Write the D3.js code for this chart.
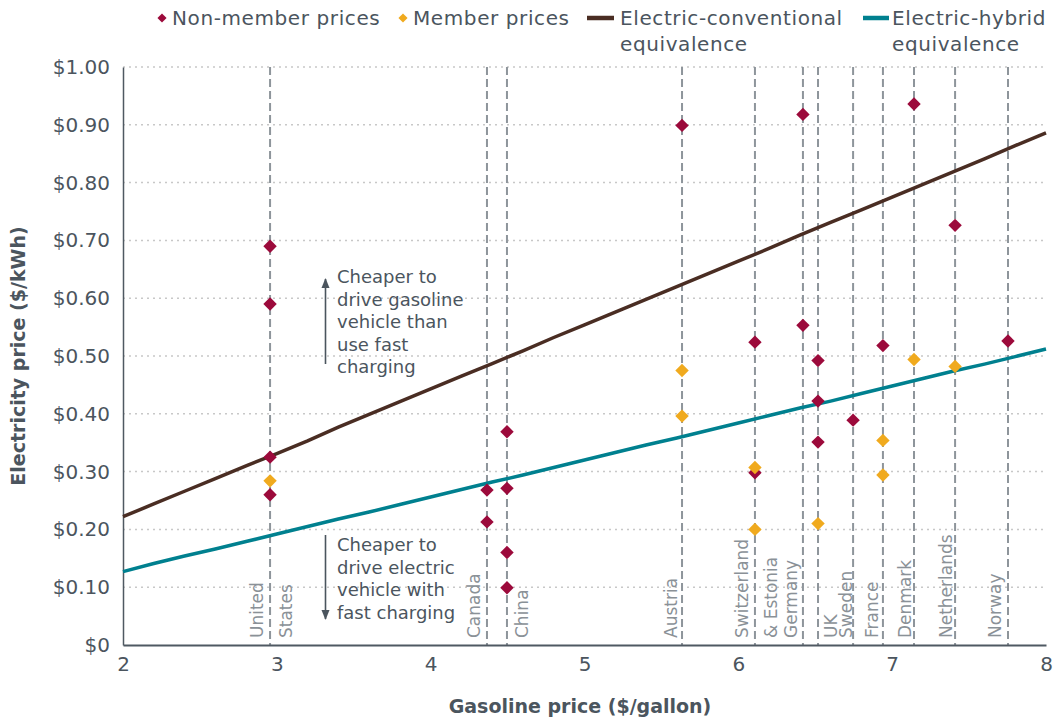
<!DOCTYPE html>
<html>
<head>
<meta charset="utf-8">
<script src="https://cdn.jsdelivr.net/npm/d3@7"></script>
<style>
  body { margin: 0; background: #fff; }
  svg { display: block; font-family: "DejaVu Sans", sans-serif; }
</style>
</head>
<body>
<svg id="chart" width="1056" height="719"></svg>
<script>
// ---------------- DATA ----------------
const countries = ["United States", "Canada", "China", "Austria", "Switzerland & Estonia",
  "Germany", "UK", "Sweden", "France", "Denmark", "Netherlands", "Norway"];
const gasolinePrice = [2.956, 4.366, 4.496, 5.634, 6.108, 6.42, 6.518, 6.746, 6.94, 7.142, 7.409, 7.753];

// [country, electricity price $/kWh]
const nonMemberPrices = [
  ["United States", 0.690], ["United States", 0.590], ["United States", 0.325], ["United States", 0.260],
  ["Canada", 0.268], ["Canada", 0.213],
  ["China", 0.369], ["China", 0.271], ["China", 0.160], ["China", 0.099],
  ["Austria", 0.899],
  ["Switzerland & Estonia", 0.524], ["Switzerland & Estonia", 0.298],
  ["Germany", 0.918], ["Germany", 0.553],
  ["UK", 0.492], ["UK", 0.422], ["UK", 0.351],
  ["Sweden", 0.389],
  ["France", 0.518],
  ["Denmark", 0.936],
  ["Netherlands", 0.726],
  ["Norway", 0.526]
];
const memberPrices = [
  ["United States", 0.284],
  ["Austria", 0.475], ["Austria", 0.396],
  ["Switzerland & Estonia", 0.307], ["Switzerland & Estonia", 0.200],
  ["UK", 0.210],
  ["France", 0.354], ["France", 0.294],
  ["Denmark", 0.494],
  ["Netherlands", 0.482]
];

const equivGasoline = [2.0, 2.2, 2.4, 2.6, 2.8, 3.0, 3.2, 3.4, 3.6, 3.8, 4.0, 4.2, 4.4, 4.6, 4.8, 5.0,
  5.2, 5.4, 5.6, 5.8, 6.0, 6.2, 6.4, 6.6, 6.8, 7.0, 7.2, 7.4, 7.6, 7.8, 8.0];
const conventionalEquiv = [0.222, 0.244, 0.266, 0.288, 0.310, 0.331, 0.353, 0.377, 0.399, 0.421,
  0.443, 0.465, 0.487, 0.509, 0.532, 0.554, 0.576, 0.598, 0.620, 0.642, 0.664, 0.686, 0.709,
  0.731, 0.753, 0.775, 0.797, 0.819, 0.841, 0.864, 0.886];
const hybridEquiv = [0.127, 0.141, 0.154, 0.166, 0.179, 0.192, 0.205, 0.218, 0.230, 0.243, 0.256,
  0.269, 0.282, 0.294, 0.307, 0.320, 0.333, 0.346, 0.358, 0.371, 0.384, 0.397, 0.410, 0.422,
  0.435, 0.448, 0.461, 0.474, 0.486, 0.499, 0.512];

const xTicks = [2, 3, 4, 5, 6, 7, 8];
const yTicks = [0, 0.1, 0.2, 0.3, 0.4, 0.5, 0.6, 0.7, 0.8, 0.9, 1.0];
const yTickLabels = ["$0", "$0.10", "$0.20", "$0.30", "$0.40", "$0.50", "$0.60", "$0.70", "$0.80", "$0.90", "$1.00"];

const legendLabels = [["Non-member prices"], ["Member prices"],
  ["Electric-conventional", "equivalence"], ["Electric-hybrid", "equivalence"]];
const annotationUp = ["Cheaper to", "drive gasoline", "vehicle than", "use fast", "charging"];
const annotationDown = ["Cheaper to", "drive electric", "vehicle with", "fast charging"];

// ---------------- LAYOUT ----------------
const C = {
  text: "#4b555e", axis: "#4f5962", grid: "#c8c8c8", dash: "#8e959b",
  nonMember: "#9c0a3b", member: "#f0aa1e", conv: "#4a2d23", hybrid: "#00808f"
};
const svg = d3.select("#chart");
const M = { left: 123, right: 1046, top: 67, bottom: 645 };
const x = d3.scaleLinear().domain([2, 8]).range([M.left, M.right]);
const y = d3.scaleLinear().domain([0, 1]).range([M.bottom, M.top]);
const gasOf = name => gasolinePrice[countries.indexOf(name)];

// gridlines
svg.append("g").selectAll("line").data(yTicks.filter(d => d > 0)).join("line")
  .attr("x1", M.left).attr("x2", M.right)
  .attr("y1", d => y(d)).attr("y2", d => y(d))
  .attr("stroke", C.grid).attr("stroke-width", 1.5).attr("stroke-dasharray", "2,4");

// country dashed lines
svg.append("g").selectAll("line").data(gasolinePrice).join("line")
  .attr("x1", d => x(d)).attr("x2", d => x(d))
  .attr("y1", y(1)).attr("y2", y(0))
  .attr("stroke", C.dash).attr("stroke-width", 2).attr("stroke-dasharray", "8,4");

// country labels (rotated)
const labelParts = {
  "United States": [["United", -7], ["States", 22]],
  "Canada": [["Canada", -7]],
  "China": [["China", 21]],
  "Austria": [["Austria", -5]],
  "Switzerland & Estonia": [["Switzerland", -7], ["& Estonia", 22]],
  "Germany": [["Germany", -6]],
  "UK": [["UK", 19]],
  "Sweden": [["Sweden", -1.5]],
  "France": [["France", -4.5]],
  "Denmark": [["Denmark", -3]],
  "Netherlands": [["Netherlands", -3]],
  "Norway": [["Norway", -7]]
};
const labG = svg.append("g").attr("font-size", 17).attr("fill", "#8a9197");
countries.forEach((c, i) => {
  labelParts[c].forEach(([txt, dx]) => {
    const px = x(gasolinePrice[i]) + dx, py = 638;
    labG.append("text").attr("transform", `translate(${px},${py}) rotate(-90)`)
      .attr("text-anchor", "start").text(txt);
  });
});

// axes
const xAxis = d3.axisBottom(x).tickValues(xTicks).tickSize(0).tickPadding(12).tickFormat(d3.format("d"));
const gx = svg.append("g").attr("transform", `translate(0,${M.bottom})`).call(xAxis);
gx.select(".domain").attr("stroke", C.axis).attr("stroke-width", 2);
gx.selectAll("text").attr("font-size", 20).attr("fill", C.text).attr("font-family", "DejaVu Sans");

const yAxis = d3.axisLeft(y).tickValues(yTicks).tickSize(0).tickPadding(13)
  .tickFormat((d, i) => yTickLabels[i]);
const gy = svg.append("g").attr("transform", `translate(${M.left},0)`).call(yAxis);
gy.select(".domain").attr("stroke", C.axis).attr("stroke-width", 1.5);
gy.selectAll("text").attr("font-size", 20).attr("fill", C.text).attr("font-family", "DejaVu Sans");

// equivalence lines
const line = d3.line().x((d, i) => x(equivGasoline[i])).y(d => y(d));
svg.append("path").datum(conventionalEquiv).attr("d", line)
  .attr("fill", "none").attr("stroke", C.conv).attr("stroke-width", 3.5);
svg.append("path").datum(hybridEquiv).attr("d", line)
  .attr("fill", "none").attr("stroke", C.hybrid).attr("stroke-width", 3.5);

// markers
const diamond = d3.symbol(d3.symbolSquare, 90);
svg.append("g").selectAll("path").data(nonMemberPrices).join("path")
  .attr("d", diamond)
  .attr("transform", d => `translate(${x(gasOf(d[0]))},${y(d[1])}) rotate(45)`)
  .attr("fill", C.nonMember);
svg.append("g").selectAll("path").data(memberPrices).join("path")
  .attr("d", diamond)
  .attr("transform", d => `translate(${x(gasOf(d[0]))},${y(d[1])}) rotate(45)`)
  .attr("fill", C.member);

// annotations
function annotate(lines, top, arrowFrom, arrowTo) {
  const g = svg.append("g").attr("fill", C.text).attr("font-size", 18);
  lines.forEach((t, i) => g.append("text").attr("x", 337).attr("y", top + i * 22.4)
    .attr("dy", "0.35em").text(t));
  const ax = 325.5;
  svg.append("line").attr("x1", ax).attr("x2", ax).attr("y1", arrowFrom).attr("y2", arrowTo)
    .attr("stroke", C.text).attr("stroke-width", 1.6);
  const dir = arrowTo < arrowFrom ? -1 : 1;
  svg.append("path")
    .attr("d", `M${ax},${arrowTo + dir * 1} L${ax - 4},${arrowTo - dir * 9} L${ax + 4},${arrowTo - dir * 9} Z`)
    .attr("fill", C.text);
}
annotate(annotationUp, 277, 364, 279);
annotate(annotationDown, 545, 535, 619);

// axis titles
svg.append("text").attr("x", 580).attr("y", 713)
  .attr("text-anchor", "middle").attr("font-size", 19).attr("font-weight", "bold")
  .attr("fill", C.text).text("Gasoline price ($/gallon)");
svg.append("text").attr("transform", `translate(25,${(M.top + M.bottom) / 2}) rotate(-90)`)
  .attr("text-anchor", "middle").attr("font-size", 19).attr("font-weight", "bold")
  .attr("fill", C.text).text("Electricity price ($/kWh)");

// legend
const lg = svg.append("g").attr("font-size", 20).attr("fill", C.text).attr("letter-spacing", 0.6);
const legendX = [172, 413, 620, 892];
const smallDiamond = d3.symbol(d3.symbolSquare, 42);
lg.append("path").attr("d", smallDiamond).attr("transform", `translate(162,18) rotate(45)`).attr("fill", C.nonMember);
lg.append("path").attr("d", smallDiamond).attr("transform", `translate(403,18) rotate(45)`).attr("fill", C.member);
lg.append("line").attr("x1", 587).attr("x2", 614).attr("y1", 18).attr("y2", 18).attr("stroke", C.conv).attr("stroke-width", 4.5);
lg.append("line").attr("x1", 863).attr("x2", 889).attr("y1", 18).attr("y2", 18).attr("stroke", C.hybrid).attr("stroke-width", 4.5);
legendLabels.forEach((lines, i) => {
  lines.forEach((t, j) => lg.append("text").attr("x", legendX[i]).attr("y", 18 + j * 26)
    .attr("dy", "0.35em").text(t));
});
</script>
</body>
</html>
